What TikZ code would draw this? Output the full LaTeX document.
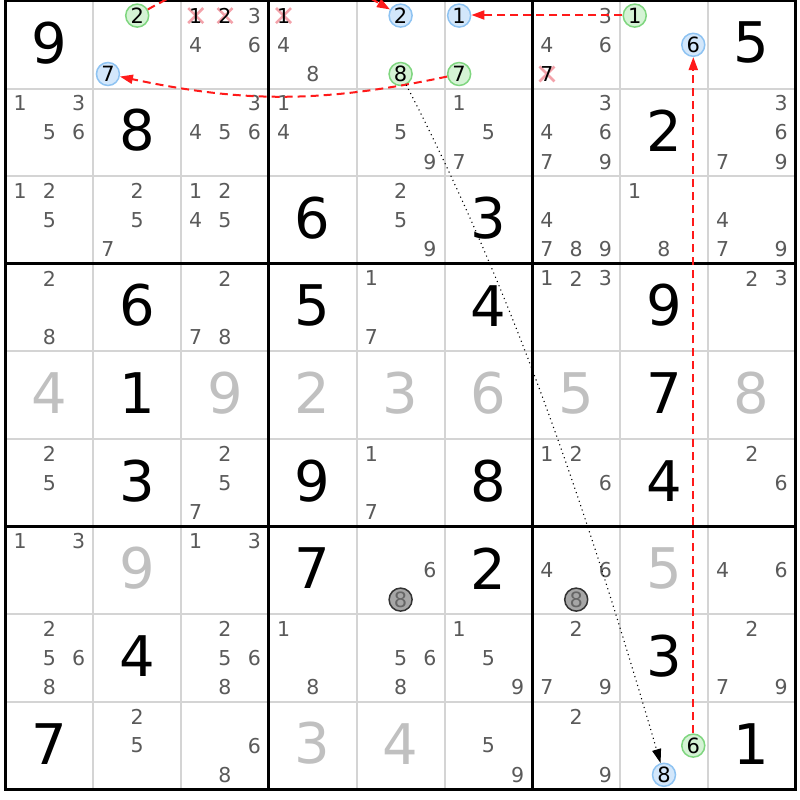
\documentclass[tikz,border=0pt]{standalone}
\usepackage{fontspec}
\setmainfont{DejaVu Sans}
\usetikzlibrary{arrows.meta}
\definecolor{candgray}{HTML}{5A5A5A}
\definecolor{solvedgray}{HTML}{C0C0C0}
\definecolor{thingrid}{HTML}{D4D4D4}
\definecolor{gfill}{HTML}{D5F3D5}
\definecolor{gline}{HTML}{7FD67F}
\definecolor{bfill}{HTML}{D3E7FB}
\definecolor{bline}{HTML}{8EC3F2}
\definecolor{xpink}{HTML}{F3A2AA}
\definecolor{linkred}{HTML}{FF1A1A}
\begin{document}
\begin{tikzpicture}[x=1pt,y=-1pt,
  cand/.style={inner sep=0pt, text=candgray, font=\fontsize{20.5}{20.5}\selectfont},
  bigd/.style={inner sep=0pt, font=\fontsize{56}{56}\selectfont},
  givend/.style={bigd, text=black},
  solvedd/.style={bigd, text=solvedgray},
  circ/.style={circle, inner sep=0pt, minimum size=23pt, line width=1.5pt, font=\fontsize{21}{21}\selectfont},
  greenc/.style={circ, draw=gline, fill=gfill, text=black},
  bluec/.style={circ, draw=bline, fill=bfill, text=black},
  grayc/.style={circ, draw=black!80, fill=black!35, text=black!60},
  crossd/.style={inner sep=0pt, text=black, font=\fontsize{20.5}{20.5}\selectfont},
  xmark/.style={draw=xpink, line width=2.6pt},
  redlink/.style={draw=linkred, line width=2pt, dash pattern=on 8pt off 5pt, -{Triangle[length=13pt,width=9pt]}},
  dotlink/.style={draw=black, line width=1.1pt, dash pattern=on 1.1pt off 3.5pt, -{Triangle[length=14pt,width=9pt]}},
  thinl/.style={draw=thingrid, line width=2pt},
  thickl/.style={draw=black, line width=3pt}
]
\useasboundingbox (0,0) rectangle (800,800);
\clip (0,0) rectangle (800,800);
\fill[white] (0,0) rectangle (800,800);
% grid
\foreach \i in {1,2,4,5,7,8}{
  \draw[thinl] ({5.5+87.8*\i},1) -- ({5.5+87.8*\i},789.4);
  \draw[thinl] (5.5,{1+87.6*\i}) -- (795.7,{1+87.6*\i});
}
\foreach \i in {0,3,6,9}{
  \draw[thickl] ({5.5+87.8*\i},-0.5) -- ({5.5+87.8*\i},790.9);
  \draw[thickl] (4,{1+87.6*\i}) -- (797.2,{1+87.6*\i});
}
% given digits
\foreach \r/\c/\d in {0/0/9,0/8/5,1/1/8,1/7/2,2/3/6,2/5/3,3/1/6,3/3/5,3/5/4,3/7/9,4/1/1,4/7/7,5/1/3,5/3/9,5/5/8,5/7/4,6/3/7,6/5/2,7/1/4,7/7/3,8/0/7,8/8/1}{
  \node[givend] (v-\r-\c) at ({5.5+87.8*(\c+0.5)},{87.6*(\r+0.5)-1}) {\d};
}
% solved digits
\foreach \r/\c/\d in {4/0/4,4/2/9,4/3/2,4/4/3,4/5/6,4/6/5,4/8/8,6/1/9,6/7/5,8/3/3,8/4/4}{
  \node[solvedd] (v-\r-\c) at ({5.5+87.8*(\c+0.5)},{87.6*(\r+0.5)-1}) {\d};
}
% candidates
\foreach \r/\c/\L in {0/2/{3,4,6},0/3/{4,8},0/6/{3,4,6},1/0/{1,3,5,6},1/2/{3,4,5,6},1/3/{1,4},1/4/{5,9},1/5/{1,5,7},1/6/{3,4,6,7,9},1/8/{3,6,7,9},2/0/{1,2,5},2/1/{2,5,7},2/2/{1,2,4,5},2/4/{2,5,9},2/6/{4,7,8,9},2/7/{1,8},2/8/{4,7,9},3/0/{2,8},3/2/{2,7,8},3/4/{1,7},3/6/{1,2,3},3/8/{2,3},5/0/{2,5},5/2/{2,5,7},5/4/{1,7},5/6/{1,2,6},5/8/{2,6},6/0/{1,3},6/2/{1,3},6/4/{6},6/6/{4,6},6/8/{4,6},7/0/{2,5,6,8},7/2/{2,5,6,8},7/3/{1,8},7/4/{5,6,8},7/5/{1,5,9},7/6/{2,7,9},7/8/{2,7,9},8/1/{2,5},8/2/{6,8},8/5/{5,9},8/6/{2,9}}{
  \foreach \k in \L {
    \node[cand] (n-\r-\c-\k) at ({5.5+87.8*\c+29.27*(mod(\k-1,3)+0.5)},{1+87.6*\r+29.2*(floor((\k-1)/3)+0.5)}) {\k};
  }
}
% crossed-out candidates
\foreach \r/\c/\k in {0/2/1,0/2/2,0/3/1,0/6/7}{
  \coordinate (x-\r-\c-\k) at ({5.5+87.8*\c+29.27*(mod(\k-1,3)+0.5)},{1+87.6*\r+29.2*(floor((\k-1)/3)+0.5)});
  \draw[xmark] ([shift={(-7.5,-7.5)}]x-\r-\c-\k) -- ([shift={(7.5,7.5)}]x-\r-\c-\k);
  \draw[xmark] ([shift={(-7.5,7.5)}]x-\r-\c-\k) -- ([shift={(7.5,-7.5)}]x-\r-\c-\k);
  \node[crossd] (n-\r-\c-\k) at (x-\r-\c-\k) {\k};
}
% circled candidates
\foreach \r/\c/\k in {0/1/2,0/5/7,0/4/8,0/7/1,8/7/6}{
  \node[greenc] (g-\r-\c-\k) at ({5.5+87.8*\c+29.27*(mod(\k-1,3)+0.5)},{1+87.6*\r+29.2*(floor((\k-1)/3)+0.5)}) {\k};
}
\foreach \r/\c/\k in {0/1/7,0/4/2,0/5/1,0/7/6,8/7/8}{
  \node[bluec] (b-\r-\c-\k) at ({5.5+87.8*\c+29.27*(mod(\k-1,3)+0.5)},{1+87.6*\r+29.2*(floor((\k-1)/3)+0.5)}) {\k};
}
\foreach \r/\c/\k in {6/4/8,6/6/8}{
  \node[grayc] (k-\r-\c-\k) at ({5.5+87.8*\c+29.27*(mod(\k-1,3)+0.5)},{1+87.6*\r+29.2*(floor((\k-1)/3)+0.5)}) {\k};
}
% links
\draw[redlink] (g-0-1-2) to[bend left=30] (b-0-4-2);
\draw[redlink] ([yshift=0.6pt]g-0-7-1.west) -- ([yshift=0.6pt]b-0-5-1.east);
\draw[redlink] (g-0-5-7) to[bend left=12] (b-0-1-7);
\draw[redlink] (g-8-7-6) -- (b-0-7-6);
\draw[dotlink] (g-0-4-8) .. controls (521,307) and (593,533) .. (b-8-7-8);
\end{tikzpicture}
\end{document}
